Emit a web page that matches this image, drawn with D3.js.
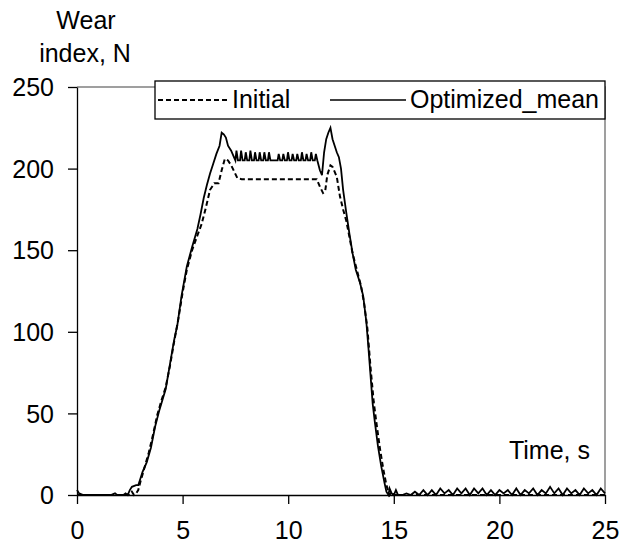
<!DOCTYPE html>
<html>
<head>
<meta charset="utf-8">
<script src="https://cdn.jsdelivr.net/npm/d3@7"></script>
<style>
  body { margin: 0; background: #fff; }
  text { font-family: "Liberation Sans", Arial, sans-serif; }
</style>
</head>
<body>
<svg id="svg-canvas" width="626" height="545"></svg>
<script>
// Tick values
const xTicks = [0, 5, 10, 15, 20, 25];
const yTicks = [0, 50, 100, 150, 200, 250];

// Initial (dashed) series
const initialTime = [0, 2.5, 2.6, 2.7, 2.8, 2.9, 3.0, 3.2, 3.4, 3.6, 3.8, 4.0, 4.2, 4.4, 4.6, 4.8, 5.0, 5.2, 5.45,
  5.7, 5.9, 6.1, 6.3, 6.5, 6.7, 6.85, 7.0, 7.15, 7.3, 7.45, 7.6, 7.8, 11.35, 11.5, 11.65, 11.75, 11.85, 12.0,
  12.1, 12.3, 12.45, 12.6, 12.75, 12.9, 13.05, 13.25, 13.45, 13.6, 13.75, 13.9, 14.05, 14.2, 14.35, 14.5,
  14.65, 14.8, 14.9, 15.0, 25];
const initialWear = [0, 0, 2, 0, 1, 3, 8, 17, 26, 37, 49, 58, 66, 79, 94, 108, 124, 138, 150,
  159, 166, 176, 187, 191, 191, 199, 206, 205, 202, 198, 194, 193.5, 193.5, 189, 185, 186, 196, 202,
  201, 195, 183, 175, 168, 158, 148, 138, 128, 117, 102, 78, 57, 42, 28, 16,
  6, 0, 2, 0, 0];

// Optimized_mean (solid) series
const optTime = [0, 0.1, 0.3, 1.0, 1.6, 1.8, 1.9, 2.2, 2.3, 2.4, 2.5, 2.6, 2.8, 2.9, 3.0, 3.1, 3.3, 3.5, 3.7,
  3.9, 4.2, 4.4, 4.6, 4.75, 4.95, 5.2, 5.45, 5.7, 5.85, 6.0, 6.15, 6.3, 6.45, 6.6, 6.75, 6.85, 6.95, 7.05,
  7.15, 7.3, 7.4,
  7.5, 7.55, 7.62, 7.72, 7.77, 7.84, 7.94, 7.99, 8.06, 8.16, 8.21, 8.28, 8.38, 8.43, 8.5, 8.6, 8.65, 8.72,
  8.82, 8.87, 8.94, 9.04, 9.09, 9.16, 9.5, 9.55, 9.62, 9.72, 9.77, 9.84, 9.94, 9.99, 10.06, 10.16, 10.21,
  10.28, 10.38, 10.43, 10.5, 10.6, 10.65, 10.72, 10.82, 10.87, 10.94, 11.04, 11.09, 11.16, 11.26, 11.31,
  11.38,
  11.5, 11.6, 11.7, 11.8, 11.9, 12.0, 12.1, 12.2, 12.3, 12.4, 12.5, 12.6, 12.75, 12.9, 13.05, 13.2, 13.4,
  13.55, 13.7, 13.8, 13.9, 14.0, 14.1, 14.25, 14.4, 14.55, 14.65, 14.75,
  14.8, 14.9, 15.0, 15.1, 15.2, 15.4, 15.6, 15.8, 16.0, 16.2, 16.4, 16.6, 16.8, 17.0, 17.2, 17.4, 17.6,
  17.8, 18.0, 18.2, 18.4, 18.6, 18.8, 19.0, 19.2, 19.4, 19.6, 19.8, 20.0, 20.2, 20.4, 20.6, 20.8, 21.0,
  21.2, 21.4, 21.6, 21.8, 22.0, 22.2, 22.4, 22.6, 22.8, 23.0, 23.2, 23.4, 23.6, 23.8, 24.0, 24.2, 24.4,
  24.6, 24.8, 25.0];
const optWear = [3, 1, 0, 0, 0, 1, 0, 0, 1, 0, 3, 5, 6, 6, 10, 14, 20, 29, 42,
  52, 65, 80, 95, 104, 122, 140, 152, 163, 172, 182, 190, 197, 203, 209, 214, 222, 221, 219,
  214, 211, 208,
  205, 211, 205, 205, 211, 205, 205, 210, 205, 205, 211, 205, 205, 210, 205, 205, 210, 205,
  205, 210, 205, 205, 210, 205, 205, 209, 205, 205, 209, 205, 205, 210, 205, 205, 209,
  205, 205, 209, 205, 205, 210, 205, 205, 209, 205, 205, 210, 205, 205, 209,
  205,
  199, 196, 210, 218, 222, 225, 218, 214, 210, 207, 200, 187, 173, 160, 148, 138, 130,
  122, 106, 90, 73, 56, 45, 30, 18, 8, 2, 0,
  4, 1, 0, 3, 0, 0, 1, 0, 2, 0, 3, 0, 3, 0, 4, 1, 3,
  0, 4, 1, 4, 0, 4, 1, 4, 0, 3, 0, 3, 1, 3, 0, 4, 0,
  3, 1, 4, 0, 3, 1, 5, 1, 4, 0, 4, 1, 3, 0, 4, 1, 3,
  0, 4, 1];

const svg = d3.select('#svg-canvas');

// Plot area
const plot = { left: 77, right: 605, top: 87, bottom: 495 };

const x = d3.scaleLinear().domain([0, 25]).range([plot.left, plot.right]);
const y = d3.scaleLinear().domain([0, 250]).range([plot.bottom, plot.top]);

// Gray plot border (top and right)
svg.append('path')
  .attr('d', `M${plot.left},${plot.top}H${plot.right}V${plot.bottom}`)
  .attr('fill', 'none')
  .attr('stroke', '#808080')
  .attr('stroke-width', 1.5);

// Lines
const line = d3.line().x(d => x(d[0])).y(d => y(d[1]));

svg.append('path')
  .datum(initialTime.map((t, i) => [t, initialWear[i]]))
  .attr('d', line)
  .attr('fill', 'none')
  .attr('stroke', '#000')
  .attr('stroke-width', 2)
  .attr('stroke-dasharray', '5,3');

svg.append('path')
  .datum(optTime.map((t, i) => [t, optWear[i]]))
  .attr('d', line)
  .attr('fill', 'none')
  .attr('stroke', '#000')
  .attr('stroke-width', 1.8);

// Axes
const yAxis = svg.append('g')
  .attr('transform', `translate(${plot.left},0)`)
  .call(d3.axisLeft(y).tickValues(yTicks).tickSize(9).tickSizeOuter(0).tickPadding(14));

const xAxis = svg.append('g')
  .attr('transform', `translate(0,${plot.bottom})`)
  .call(d3.axisBottom(x).tickValues(xTicks).tickSize(9).tickSizeOuter(0).tickPadding(17));

[xAxis, yAxis].forEach(g => {
  g.selectAll('text')
    .attr('font-size', 25)
    .attr('font-family', '"Liberation Sans", Arial, sans-serif')
    .attr('fill', '#000');
  g.selectAll('line, path').attr('stroke', '#000').attr('stroke-width', 1.3);
});
yAxis.selectAll('text').attr('dy', '0.35em');

// Axis titles
svg.append('text')
  .attr('x', 86).attr('y', 29)
  .attr('text-anchor', 'middle')
  .attr('font-size', 25)
  .text('Wear');

svg.append('text')
  .attr('x', 85).attr('y', 62)
  .attr('text-anchor', 'middle')
  .attr('font-size', 25)
  .text('index, N');

svg.append('text')
  .attr('x', 590).attr('y', 459)
  .attr('text-anchor', 'end')
  .attr('font-size', 25)
  .text('Time, s');

// Legend
const legend = svg.append('g');
legend.append('rect')
  .attr('x', 155).attr('y', 81)
  .attr('width', 450).attr('height', 38)
  .attr('fill', '#fff')
  .attr('stroke', '#000')
  .attr('stroke-width', 1.3);

legend.append('line')
  .attr('x1', 158).attr('x2', 228).attr('y1', 100).attr('y2', 100)
  .attr('stroke', '#000').attr('stroke-width', 2)
  .attr('stroke-dasharray', '5,3');
legend.append('text')
  .attr('x', 232).attr('y', 108)
  .attr('font-size', 25)
  .text('Initial');

legend.append('line')
  .attr('x1', 330).attr('x2', 406).attr('y1', 100).attr('y2', 100)
  .attr('stroke', '#000').attr('stroke-width', 1.6);
legend.append('text')
  .attr('x', 410).attr('y', 108)
  .attr('font-size', 25)
  .text('Optimized_mean');
</script>
</body>
</html>
